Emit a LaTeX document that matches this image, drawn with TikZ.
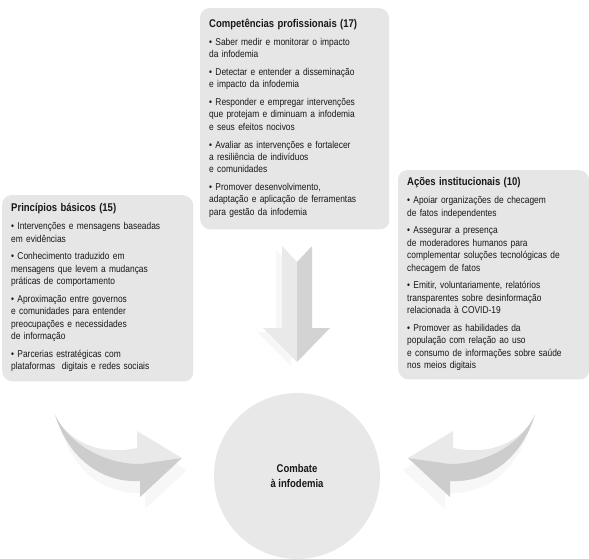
\documentclass[tikz,border=0pt]{standalone}
\usepackage{fontspec}
\setmainfont{Liberation Sans}[FakeStretch=0.85]
\usetikzlibrary{shadows, positioning}
\definecolor{panelgray}{HTML}{E6E6E6}
\definecolor{hubgray}{HTML}{E8E8E8}
\definecolor{inkdark}{HTML}{1A1718}
\definecolor{arrowlight}{HTML}{E9E9E9}
\definecolor{arrowdark}{HTML}{CDCDCD}
\definecolor{arrowshade}{HTML}{F7F7F7}
\newcommand{\gap}{\\[5.3pt]}
\newcommand{\ptitle}[1]{{\fontsize{11.2}{12.4}\selectfont\bfseries #1}\\[5.5pt]}

\begin{document}
\begin{tikzpicture}[x=1pt, y=-1pt,
    panel/.style={fill=panelgray, rounded corners=9pt, anchor=north west, align=left,
      inner xsep=9pt, text=inkdark, font=\fontsize{9.9}{12.4}\selectfont,
      drop shadow={shadow xshift=1pt, shadow yshift=-1.2pt, fill=black, opacity=0.10}},
    hub/.style={circle, fill=hubgray, minimum size=166pt, align=center, text=inkdark,
      font=\fontsize{11.2}{14.5}\selectfont\bfseries},
    bentarrow/.pic={
      % sombra
      \fill[arrowshade] (60,427) .. controls (73,449) and (105,468) .. (142,460) -- (142,443) -- (187,470) -- (145,509) -- (145,493) .. controls (105,495) and (75,474) .. cycle;
      % face clara
      \fill[arrowlight] (55,415) .. controls (68,442) and (100,456) .. (137,448) -- (137,431) -- (182,458) -- (140,464) .. controls (105,464) and (70,445) .. cycle;
      % face escura
      \fill[arrowdark] (55,415) .. controls (70,445) and (105,464) .. (140,464) -- (182,458) -- (140,497) -- (140,481) .. controls (105,483) and (70,462) .. cycle;
    }]
  \fill[white] (0,0) rectangle (589,559);
  \useasboundingbox (0,0) rectangle (589,559);

  % Competências profissionais
  \node[panel, text width=170pt, minimum height=220pt] (comp) at (200,8) {%
    \ptitle{Competências profissionais (17)}
    • Saber medir e monitorar o impacto\\
    da infodemia\gap
    • Detectar e entender a disseminação\\
    e impacto da infodemia\gap
    • Responder e empregar intervenções\\
    que protejam e diminuam a infodemia\\
    e seus efeitos nocivos\gap
    • Avaliar as intervenções e fortalecer\\
    a resiliência de indivíduos\\
    e comunidades\gap
    • Promover desenvolvimento,\\
    adaptação e aplicação de ferramentas\\
    para gestão da infodemia};

  % Princípios básicos
  \node[panel, text width=172pt, minimum height=185pt] (princ) at (2,195) {%
    \ptitle{Princípios básicos (15)}
    • Intervenções e mensagens baseadas\\
    em evidências\gap
    • Conhecimento traduzido em\\
    mensagens que levem a mudanças\\
    práticas de comportamento\gap
    • Aproximação entre governos\\
    e comunidades para entender\\
    preocupações e necessidades\\
    de informação\gap
    • Parcerias estratégicas com\\
    plataformas\ \ digitais e redes sociais};

  % Ações institucionais
  \node[panel, text width=172pt, minimum height=208pt] (acoes) at (398,170) {%
    \ptitle{Ações institucionais (10)}
    • Apoiar organizações de checagem\\
    de fatos independentes\gap
    • Assegurar a presença\\
    de moderadores humanos para\\
    complementar soluções tecnológicas de\\
    checagem de fatos\gap
    • Emitir, voluntariamente, relatórios\\
    transparentes sobre desinformação\\
    relacionada à COVID-19\gap
    • Promover as habilidades da\\
    população com relação ao uso\\
    e consumo de informações sobre saúde\\
    nos meios digitais};

  % Combate à infodemia
  \node[hub] (core) at (297,476) {Combate\\à infodemia};

  % Seta para baixo
  \fill[arrowshade] (276,250) -- (291,266) -- (291,366) -- (257,332) -- (276,332) -- cycle;
  \fill[arrowlight] (282,246) -- (297,262) -- (297,362) -- (263,328) -- (282,328) -- cycle;
  \fill[arrowdark!80!arrowlight] (312,246) -- (297,262) -- (297,362) -- (330,328) -- (312,328) -- cycle;

  % Setas curvas
  \pic at (0,0) {bentarrow};
  \pic[xscale=-1] at (590,0) {bentarrow};
\end{tikzpicture}
\end{document}
